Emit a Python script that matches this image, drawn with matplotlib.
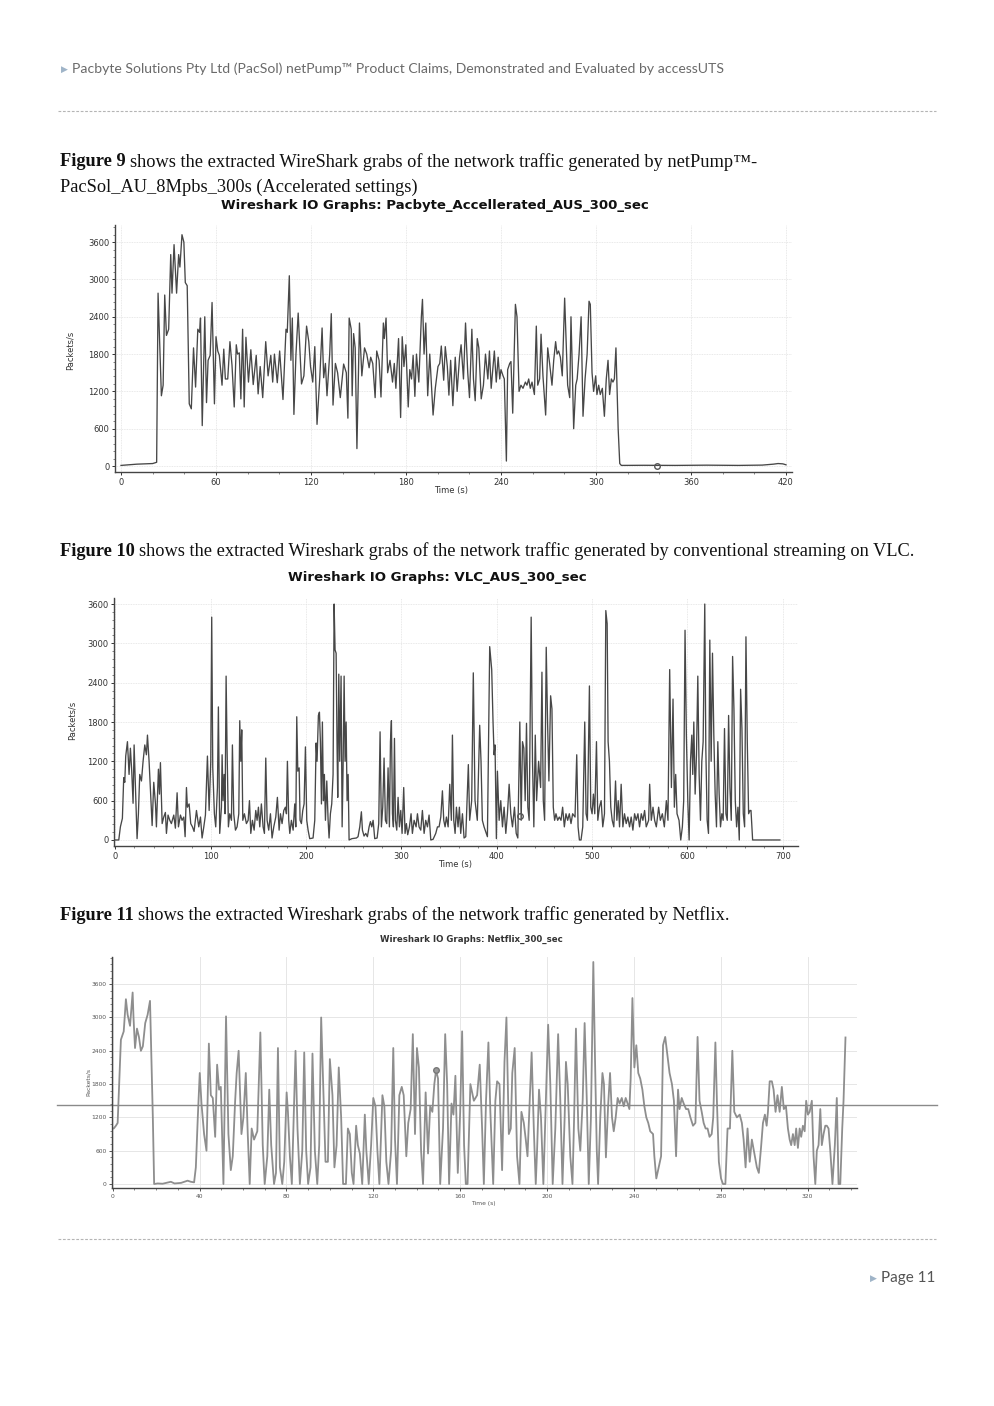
import numpy as np
import matplotlib
matplotlib.use("Agg")
import matplotlib.pyplot as plt
from matplotlib.lines import Line2D
from matplotlib.ticker import MultipleLocator

W, H = 994, 1406

# --- Figure 9: Pacbyte accelerated (time s, packets/s) ---
t1 = [0, 5, 10, 15, 20, 22.5, 23.4, 25.5, 26.6, 27.6, 28.7, 30.1, 31.4, 32.2, 33.5, 35.1, 36.4, 37.2,
      38.5, 39.7, 40.6, 41.8, 43.1, 44.4, 45.8, 47.1, 48.5, 49.6, 50.2, 51.3, 52.9, 54.0, 55.0, 56.3,
      57.5, 59.0, 60.0, 61.1, 62.1, 63.8, 64.9, 65.9, 67.4, 68.8, 70.1, 71.5, 72.8, 73.6, 74.7, 75.7,
      76.8, 77.8, 78.9, 80.5, 82.0, 83.5, 85.4, 86.6, 87.9, 89.5, 91.4, 92.9, 94.6, 95.8, 96.9, 98.7,
      100.2, 102.3, 104.2, 105.0, 106.3, 107.3, 108.2, 109.2, 110.5, 111.9, 114.0, 115.5, 117.2, 118.6,
      119.7, 121.1, 122.4, 123.8, 125.5, 127.0, 128.0, 129.1, 130.1, 131.8, 132.8, 133.9, 135.4, 136.8,
      138.5, 140.6, 142.3, 143.3, 144.1, 145.4, 146.0, 146.9, 147.9, 149.0, 150.6, 152.1, 153.8, 155.2,
      156.7, 157.7, 159.0, 160.5, 161.5, 163.0, 164.2, 165.7, 166.3, 167.4, 168.4, 169.9, 171.5, 172.6,
      173.6, 175.3, 176.6, 177.6, 178.7, 179.9, 181.4, 182.4, 183.5, 184.5, 185.6, 186.6, 188.1, 189.7,
      190.4, 191.4, 192.5, 193.7, 195.0, 197.1, 198.5, 200.2, 201.3, 202.3, 203.8, 204.8, 206.1, 207.1,
      208.2, 209.6, 211.1, 212.3, 213.8, 214.8, 216.3, 217.6, 219.0, 220.1, 221.6, 222.6, 223.7, 225.0,
      226.0, 227.5, 228.9, 230.2, 231.7, 232.7, 233.8, 234.8, 235.8, 237.0, 238.2, 239.2, 240.0, 241.3,
      242.1, 243.4, 244.2,
      245.5, 246.3, 247.4, 249.1, 250.1, 251.4, 252.6, 253.9, 255.4, 256.4, 257.5, 258.5, 259.6, 261.1,
      262.3, 263.2, 264.4, 265.3, 266.5, 268.2, 269.5, 270.7, 272.2, 273.3, 274.5, 275.4, 276.4, 277.5,
      278.7, 280.2, 281.3, 282.1, 283.4, 284.2, 284.8, 285.9, 287.2, 288.1, 289.3, 290.6, 291.8, 293.1,
      294.4, 295.6, 296.4, 297.5, 298.5, 299.8, 300.6, 301.7, 302.7, 304.0, 305.3, 306.5, 307.6, 308.6,
      309.7, 310.7, 311.6, 312.6, 314.0, 315.0, 316.0, 330, 350, 370, 390, 405, 412, 415, 418, 420]
pk1 = [10, 20, 30, 35, 40, 60, 2780, 1130, 1300, 2750, 2100, 2200, 3400, 2780, 3560, 2780, 3400, 3200,
       3720, 3600, 2950, 2900, 1000, 920, 1900, 1270, 2200, 2150, 2380, 650, 2400, 1020, 1700, 1780,
       2630, 1000, 2080, 1850, 1780, 1300, 1880, 1400, 1400, 2000, 1620, 950, 1950, 1800, 1820, 1080,
       2200, 950, 2070, 1350, 1870, 1310, 1780, 1160, 1600, 1100, 2000, 1450, 1780, 1350, 1800, 1340,
       1850, 1070, 2200, 2150, 3060, 1700, 2380, 830, 1800, 2460, 1320, 1450, 2250, 2000,
       1600, 1350, 1920, 670, 1400, 2220, 1420, 1650, 1130, 1800, 2450, 980, 1650, 1500,
       1100, 1640, 1500, 770, 2380, 2200, 1130, 2130, 1900, 280, 2300, 1450, 1900, 1800,
       1580, 1750, 1650, 1100, 1850, 1700, 1110, 2300, 2050, 2380, 1500, 1700, 1350, 1650,
       1250, 2050, 780, 2080, 1600, 1950, 950, 1550, 1400, 1780, 1120, 1800, 1350, 2400,
       2680, 1800, 2300, 1130, 1800, 820, 1250, 1600, 1650, 1930, 1380, 1920, 1600, 1140,
       1700, 970, 1750, 1200, 1740, 1950, 1400, 2300, 1500, 1100, 2200, 1400, 1050, 2050,
       1900, 1080, 1300, 1800, 1400, 1850, 1250, 1550, 1850, 1350, 1750, 1400, 1550, 1450,
       1400, 80, 1550,
       1650, 1680, 850, 2600, 2400, 1200, 1300, 1250, 1350, 1300, 1400, 1250, 1350, 1150,
       2250, 1300, 1400, 2120, 1450, 820, 1900, 1650, 1300, 1700, 2000, 1800, 1850, 1750,
       1450, 2700, 1900, 1300, 1100, 2400, 1800, 600, 1300, 1400, 1800, 2400, 800, 1400,
       1800, 2650, 2600, 1500, 1200, 1450, 1150, 1300, 1150, 1250, 800, 1400, 1700, 1150,
       1400, 1350, 1400, 1900, 600, 40, 10, 12, 10, 14, 10, 15, 30, 40, 35, 20]

# --- Figure 10: VLC ---
t2 = [0, 3.5, 5.2, 7.3, 8.7, 9.8, 10.8, 12.6, 14.3, 15.7, 17.1, 18.5, 19.6, 21.0, 22.7, 24.1, 25.5, 27.3,
      29.0, 30.8, 32.5, 33.6, 35.3, 37.1, 38.5, 40.2, 42.0, 43.0, 45.1, 46.2, 47.2, 49.0, 50.7, 52.4,
      53.5, 55.2, 57.0, 58.7, 61.2, 62.9, 64.7, 66.1, 68.2, 69.9, 71.7, 73.1, 74.5, 75.5, 77.3, 79.0,
      80.8, 82.5, 85.0, 87.4, 89.2, 90.9, 92.7, 94.4, 96.5, 98.3, 100.0, 101.0, 102.1, 103.8, 105.2,
      107.0, 108.0, 109.4, 111.2, 111.9, 112.9, 114.0, 115.0, 116.1, 117.1, 118.5, 119.9, 121.7, 122.7,
      124.1, 125.9, 127.6, 129.4, 130.4, 131.5, 132.5, 133.6, 135.3, 137.4, 139.2, 140.6, 142.0, 143.7,
      145.5, 147.2, 148.6, 150.0, 151.4, 153.1, 154.9, 156.3, 157.7, 159.1, 160.8, 162.6, 164.3, 166.1,
      168.2, 169.9, 171.7, 173.1, 174.8, 176.6, 178.3, 179.4, 180.4, 181.8, 182.9, 184.6, 186.4, 188.1,
      189.2, 190.2, 191.3, 192.7, 193.7, 195.1, 196.5, 197.9, 199.3, 200.7, 202.1, 203.8, 207.3, 209.1,
      210.5, 211.5, 212.9, 214.0, 215.0, 216.1, 217.1, 218.2, 219.2, 220.3, 221.7, 223.1, 224.1, 225.5,
      226.9, 228.3, 229.4, 230.4, 231.5, 232.5, 233.2, 234.3, 235.3, 236.7, 237.8, 238.8, 239.9, 240.9,
      242.0, 243.0, 244.1, 245.1, 248.0, 252.8, 254.5, 256.3, 258.0, 259.1, 260.8, 262.6, 264.3, 266.1,
      267.5, 268.9, 270.3, 272.0, 274.5, 276.2, 277.6, 279.0, 280.4, 281.8, 283.2, 284.6, 286.0, 287.4,
      288.5, 289.5, 290.6, 291.6, 292.7, 293.7, 295.1, 296.5, 297.9, 299.3, 300.7, 302.4, 303.8, 305.2,
      306.6, 308.4, 310.1, 311.5, 313.3, 315.4, 316.8, 318.5, 320.3, 322.0, 323.8, 325.5, 327.3, 329.0,
      330.8, 333.2, 336.0, 337.8, 339.5, 341.3, 343.0, 344.4, 345.8, 347.2, 349.0, 350.7, 352.4, 353.5,
      354.9, 356.3, 357.7, 359.4, 360.8, 362.2, 364.0, 365.7, 367.5, 370.2, 371.6, 373.7, 375.4, 377.2,
      379.6, 382.1, 383.5, 384.9, 386.7, 390.2, 392.6, 394.7, 396.1, 397.2, 398.2, 399.6, 400.7, 402.5,
      404.2, 406.0, 407.7, 409.5, 411.2, 413.0, 414.7, 416.5, 418.6, 420.4, 422.1, 424.2, 425.6, 427.0,
      428.4, 429.8, 431.2, 432.6, 434.0, 436.1, 437.5, 438.9, 440.4, 441.8, 443.9, 446.0, 447.4, 448.8,
      450.2, 451.9, 453.3, 454.7, 456.5, 457.9, 459.3, 460.7, 462.1, 463.9, 465.6, 467.4, 469.1, 470.9,
      472.6, 474.4, 476.1, 477.9, 479.6, 482.1, 483.9, 485.3, 486.7, 488.4, 490.2, 492.3, 493.7, 495.1,
      497.2, 498.6, 500.0, 501.4, 502.8, 504.6, 506.0, 507.7, 509.5, 511.2, 513.0, 514.4, 515.8, 516.8,
      518.2, 519.6, 521.1, 522.8, 524.6, 526.0, 527.4, 528.8, 530.5, 532.3, 534.0, 535.8, 537.5, 539.3,
      541.0, 542.8, 544.6, 546.3, 548.1, 549.8, 551.6, 553.3, 555.1, 556.8, 559.3, 560.4, 562.1, 563.9,
      565.6, 567.4, 569.8, 571.6, 573.7, 575.8, 577.9, 579.6, 581.4, 583.2, 584.9, 586.3, 587.7, 589.1,
      591.2, 593.0, 594.7, 596.1, 597.5, 598.9, 600.4, 601.8, 603.2, 604.6, 605.6, 606.7, 608.1, 609.5,
      610.9, 612.3, 613.7, 615.1, 616.5, 618.2, 619.3, 620.7, 622.1, 623.5, 624.9, 626.3, 627.7, 629.1,
      630.5, 631.9, 633.3, 634.7, 636.1, 637.5, 638.9, 640.4, 641.8, 643.2, 644.6, 646.0, 647.4, 648.8,
      650.2, 651.6, 653.0, 654.4, 655.8, 657.2, 658.6, 660.0, 661.4, 662.8, 664.2, 665.6, 666.7, 668.4,
      680, 697]
pk2 = [0, 0, 200, 330, 950, 880, 1280, 1500, 1000, 1400, 1050, 560, 1450, 800, 20, 400, 1000, 900,
       1200, 1450, 1300, 1600, 1200, 650, 220, 880, 550, 200, 1080, 700, 1180, 250, 350, 420,
       100, 380, 300, 250, 380, 180, 720, 200, 380, 300, 350, 50, 800, 500, 550, 250,
       200, 130, 450, 200, 350, 30, 200, 380, 1280, 450, 1200, 3400, 1100, 400, 200,
       800, 2030, 100, 500, 1300, 600, 1000, 400, 2500, 1400, 200, 400, 300, 1450,
       400, 150, 200, 400, 1820, 1200, 1680, 300, 400, 250, 300, 600, 100, 300,
       150, 450, 300, 500, 200, 550, 200, 100, 1250, 300, 150, 400, 30, 200,
       350, 650, 150, 400, 250, 450, 500, 400, 1200, 300, 100, 300, 150, 550,
       200, 1880, 1050, 1100, 300, 250, 450, 550, 1420, 300, 150, 20, 30, 300,
       1480, 1200, 1900, 1950, 1500, 550, 1800, 600, 1000, 300, 900, 300, 30, 400,
       550, 1000, 3600, 2900, 2850, 1400, 650, 2530, 1200, 2500, 200, 1100, 2500, 1200,
       1800, 600, 1000, 0, 20, 30, 50, 200, 430, 150, 60, 100, 50, 200,
       280, 200, 300, 20, 30, 250, 1650, 200, 500, 1250, 300, 250, 1100, 200,
       1500, 1820, 400, 200, 1550, 300, 150, 650, 200, 450, 100, 800, 100, 250,
       80, 200, 400, 100, 300, 200, 400, 200, 150, 450, 100, 300, 200, 380,
       0, 10, 100, 200, 200, 350, 750, 300, 200, 350, 200, 850, 300, 1600,
       300, 100, 500, 200, 500, 100, 400, 30, 50, 1150, 300, 600, 2550, 600,
       300, 1750, 1200, 300, 200, 50, 2950, 2600, 1800, 1300, 1450, 20, 1050, 300,
       600, 200, 500, 100, 400, 850, 400, 200, 500, 100, 30, 1800, 300, 1500,
       1400, 600, 1780, 500, 300, 3400, 1200, 200, 1600, 600, 1200, 800, 2560, 600,
       300, 2940, 1800, 900, 2200, 2000, 500, 300, 400, 300, 350, 300, 500, 200,
       400, 300, 400, 250, 400, 350, 1300, 200, 0, 0, 200, 1800, 400, 300,
       2350, 500, 400, 700, 400, 1500, 300, 500, 600, 200, 400, 3500, 3300, 1500,
       1200, 500, 300, 200, 900, 300, 600, 200, 850, 200, 400, 250, 350, 200,
       350, 150, 400, 300, 400, 200, 400, 300, 450, 200, 300, 850, 300, 500,
       300, 200, 500, 300, 400, 200, 600, 300, 2600, 800, 2150, 500, 1000, 400,
       300, 0, 200, 600, 3200, 1600, 600, 0, 1200, 1600, 1000, 1800, 700, 1300,
       2500, 1000, 300, 1200, 1500, 3600, 1400, 300, 100, 3050, 1200, 2850, 1600, 700,
       200, 1500, 700, 200, 400, 300, 1700, 400, 300, 1900, 800, 300, 2800, 2000,
       600, 200, 500, 0, 2300, 1700, 400, 200, 3100, 1500, 400, 450, 450, 0,
       0, 0]

# --- Figure 11: Netflix ---
t3 = [0, 0.5, 1.5, 2.3, 3.1, 3.8, 5.1, 6.1, 6.9, 8.0, 9.2, 9.6, 10.3, 11.2, 12.1, 13.0, 13.9, 15.0, 16.1,
      17.2, 17.9, 18.5, 19.1, 20.7, 23.0, 26.8, 28.5, 31.5, 34.5, 36.0, 37.5, 38.3, 39.2, 40.1, 40.9,
      42.1, 43.2, 44.3, 45.2, 46.1, 47.2, 48.1, 49.0, 49.8, 51.0, 52.2, 53.3, 54.4, 55.3, 56.4, 57.1,
      58.0, 59.3, 60.2, 61.3, 62.2, 63.1, 64.0, 65.1, 66.6, 68.0, 69.1, 70.0, 71.2, 72.1, 73.0, 74.3,
      75.2, 76.1, 77.0, 78.1, 79.0, 80.1, 80.7, 81.6, 82.5, 84.2, 85.1, 86.2, 87.3, 88.2, 89.1, 90.0,
      91.1, 92.0, 93.1, 94.2, 95.1, 96.0, 96.9, 98.0, 99.1, 100.0, 101.2, 102.1, 103.1, 104.1, 105.2,
      106.1, 107.4, 108.3, 109.2, 110.1, 110.9, 112.1, 112.9, 113.8, 114.9, 116.1, 116.8, 117.9, 119.0,
      120.0, 121.0, 121.9, 122.8, 124.2, 125.1, 126.0, 127.0, 128.2, 129.2, 130.0, 130.9, 132.0, 133.1,
      134.0, 135.2, 136.1, 137.2, 138.2, 139.2, 140.1, 141.0, 142.0, 142.9, 144.1, 145.2, 146.2, 147.2,
      148.1, 148.9, 149.8, 150.8, 152.1, 153.1, 154.0, 154.9, 156.0, 156.9, 157.8, 158.9, 160.0, 160.9,
      161.8, 162.6, 163.4, 164.7, 166.3, 167.8, 169.0, 170.1, 170.9, 171.9, 173.0, 173.9, 175.2, 176.2,
      177.0, 178.1, 179.3, 180.4, 181.3, 182.4, 183.3, 184.0, 185.1, 186.2, 187.3, 188.2, 189.3, 190.2,
      191.0, 192.0, 192.9, 193.9, 194.8, 195.4, 196.3, 197.2, 198.3, 199.2, 200.5, 201.5, 202.6, 203.8,
      205.1, 206.1, 207.1, 208.1, 208.7, 209.5, 210.7, 211.7, 212.4, 213.3, 214.4, 215.3, 216.4, 217.3,
      218.3, 219.2, 220.2, 221.3, 222.1, 222.9, 223.5, 224.5, 225.5, 226.2, 227.1, 228.1, 229.0, 229.9,
      230.7, 231.6, 232.5, 233.4, 234.4, 235.3, 236.2, 237.1, 237.9, 238.5, 239.3, 240.2, 241.1, 242.0,
      242.9, 243.9, 244.8, 245.7, 246.6, 247.5, 248.8, 249.4, 250.3, 251.4, 252.5, 253.4, 254.4, 255.5,
      256.4, 257.5, 258.4, 259.4, 260.3, 261.0, 262.0, 262.9, 264.0, 265.0, 266.0, 267.2, 268.3, 269.3,
      270.2, 271.2, 272.1, 273.0, 273.9, 274.8, 275.8, 276.5, 277.5, 278.2, 279.1, 280.1, 281.0, 282.1,
      283.1, 284.2, 285.3, 286.2, 287.4, 288.7, 289.7, 290.5, 291.4, 292.3, 293.3, 294.3, 295.2, 296.6,
      297.5, 298.5, 299.4, 300.3, 301.1, 301.7, 302.5, 303.5, 304.3, 305.2, 306.1, 307.1, 308.1, 309.0,
      310.0, 310.9, 311.7, 312.4, 313.2, 314.0, 314.7, 315.5, 316.3, 317.0, 317.8, 318.6, 319.3, 320.1,
      320.9, 321.9, 322.7, 323.5, 324.2, 325.0, 325.8, 326.5, 327.3, 328.1, 328.8, 329.6, 330.4, 331.4,
      332.5, 333.4, 334.2, 335.0, 335.9, 336.5, 337.4]
pk3 = [1000, 1000, 1050, 1100, 1900, 2600, 2750, 3330, 3050, 2850, 3450, 3000, 2450, 2800, 2650, 2400, 2480, 2900, 3050,
       3300, 2200, 1200, 0, 10, 5, 40, 10, 20, 60, 40, 30, 300, 1200, 2000, 1450,
       900, 600, 2530, 1600, 1550, 850, 2150, 1700, 1750, 0, 3020, 900, 250, 500, 1500, 2000,
       2400, 900, 1200, 2000, 900, 0, 1000, 800, 950, 2730, 700, 0, 500, 1700, 700, 0,
       200, 2450, 300, 0, 400, 1650, 1300, 500, 0, 2400, 1000, 0, 600, 2370, 600, 0,
       300, 2350, 600, 0, 700, 3000, 1800, 400, 400, 2250, 1600, 300, 700, 2100, 1200,
       0, 0, 1000, 900, 200, 0, 1050, 700, 550, 0, 1250, 600, 0, 700,
       1550, 1400, 600, 0, 1600, 1400, 400, 0, 600, 2450, 800, 0, 1600, 1750,
       1600, 500, 1100, 1350, 2700, 900, 2450, 2100, 600, 0, 1650, 550, 1400, 1300,
       1800, 2050, 1900, 0, 1000, 2700, 1800, 0, 1450, 1250, 1950, 200, 1300, 2750,
       700, 0, 0, 1800, 1500, 1600, 2150, 1000, 0, 1500, 2550, 1300, 0, 1500,
       1850, 1800, 250, 2200, 3000, 900, 1000, 2000, 2450, 500, 0, 1300, 1100, 800,
       500, 1500, 2370, 1000, 0, 600, 1700, 1200, 0, 1200, 2870, 1800, 0, 1000,
       2700, 1500, 0, 1200, 2200, 1800, 500, 0, 1100, 2800, 1000, 600, 1500, 2900,
       1500, 0, 1200, 4000, 2200, 600, 0, 1200, 2000, 1800, 480, 1400, 2000, 1200,
       950, 1200, 1550, 1450, 1550, 1400, 1550, 1450, 1350, 1900, 3350, 2100, 2500, 2000,
       1900, 1700, 1400, 1200, 1100, 950, 900, 500, 100, 300, 500, 2500, 2650, 2300,
       2000, 1800, 1500, 500, 1700, 1350, 1550, 1450, 1350, 1350, 1200, 1050, 1100, 2650,
       1500, 1300, 1100, 1000, 1000, 850, 900, 1200, 2550, 1500, 400, 100, 0, 0,
       1000, 1000, 2400, 1300, 1200, 1250, 1100, 800, 300, 1000, 400, 800, 600, 300,
       200, 650, 1100, 1250, 1050, 1300, 1850, 1850, 1700, 1300, 1600, 1300, 1750, 1350,
       1400, 1000, 800, 700, 900, 700, 1000, 650, 1000, 850, 1050, 950, 1500, 1250,
       1300, 1500, 500, 0, 600, 700, 1350, 700, 900, 1050, 1050, 1000, 600, 0,
       700, 1550, 0, 0, 1000, 1500, 2640]

yticks = [0, 600, 1200, 1800, 2400, 3000, 3600]
SERIF = 'Liberation Serif'
BODY_FS = 13.2


def px_axes(l, t, r, b):
    return fig.add_axes([l / W, 1 - b / H, (r - l) / W, (b - t) / H])


def style(ax, fs, xmaj, xmin_, c='#333333'):
    for s in ['top', 'right']:
        ax.spines[s].set_visible(False)
    for s in ['left', 'bottom']:
        ax.spines[s].set_color('#444444')
        ax.spines[s].set_linewidth(1.0)
    ax.set_yticks(yticks)
    ax.xaxis.set_major_locator(MultipleLocator(xmaj))
    ax.xaxis.set_minor_locator(MultipleLocator(xmin_))
    ax.yaxis.set_minor_locator(MultipleLocator(120))
    ax.tick_params(labelsize=fs, colors=c, length=2.5, width=0.7, pad=1.5)
    ax.tick_params(which='minor', length=1.5, width=0.5, colors='#555555')
    ax.grid(True, color='#e2e2e2', lw=0.6, ls=(0, (1, 1)))
    ax.set_axisbelow(True)


fig = plt.figure(figsize=(W / 100, H / 100), dpi=100)
renderer = fig.canvas.get_renderer()

# header / footer
fig.text(64 / W, 1 - 69 / H, '\u25B6', fontsize=6.5, color='#9fb4c8', va='center', ha='center')
fig.text(72 / W, 1 - 69 / H,
         'Pacbyte Solutions Pty Ltd (PacSol) netPump\u2122 Product Claims, Demonstrated and Evaluated by accessUTS',
         fontsize=10.05, family='Lato', color='#6a6a6a', va='center')
for yy in [111, 1239]:
    fig.add_artist(Line2D([58 / W, 936 / W], [1 - yy / H] * 2, color='#b5b5b5', lw=0.8, ls=(0, (2.5, 1.5))))
fig.text(873 / W, 1 - 1278 / H, '\u25B6', fontsize=6.5, color='#9fb4c8', va='center', ha='center')
fig.text(881 / W, 1 - 1278 / H, 'Page 11', fontsize=11, family='Lato', color='#555555', va='center')


def para(x, y, bold, rest):
    tb = fig.text(x / W, 1 - y / H, bold, fontsize=BODY_FS, family=SERIF,
                  fontweight='bold', va='center', color='#111111')
    bb = tb.get_window_extent(renderer)
    fig.text((bb.x1 + 4) / W, 1 - y / H, rest, fontsize=BODY_FS, family=SERIF,
             va='center', color='#111111')


para(60, 162, 'Figure 9', 'shows the extracted WireShark grabs of the network traffic generated by netPump\u2122-')
fig.text(60 / W, 1 - 187 / H, 'PacSol_AU_8Mpbs_300s (Accelerated settings)', fontsize=BODY_FS,
         family=SERIF, va='center', color='#111111')
para(60, 551, 'Figure 10',
     'shows the extracted Wireshark grabs of the network traffic generated by conventional streaming on VLC.')
para(60, 915, 'Figure 11', 'shows the extracted Wireshark grabs of the network traffic generated by Netflix.')

# chart 1
ax1 = px_axes(115, 225, 792, 472)
ax1.plot(t1, pk1, color='#474747', lw=0.95)
ax1.plot([338.5], [0], 'o', mfc='none', mec='#555555', ms=4, mew=1)
ax1.set_xlim(-3.8, 423.8)
ax1.set_ylim(-96, 3876)
style(ax1, 6, 60, 20)
fig.text(435 / W, 1 - 205 / H, 'Wireshark IO Graphs: Pacbyte_Accellerated_AUS_300_sec',
         fontsize=9.5, fontweight='bold', ha='center', va='center', color='#111111')
fig.text(451 / W, 1 - 490 / H, 'Time (s)', fontsize=6, ha='center', va='center', color='#333333')
fig.text(70 / W, 1 - 350 / H, 'Packets/s', fontsize=6, rotation=90, ha='center', va='center', color='#333333')

# chart 2
ax2 = px_axes(114, 598, 798, 846)
ax2.plot(t2, pk2, color='#474747', lw=0.95)
ax2.plot([424.6], [360], 'o', mfc='none', mec='#555555', ms=4, mew=1)
ax2.set_xlim(-1.5, 716)
ax2.set_ylim(-92, 3692)
style(ax2, 6, 100, 20)
fig.text(437 / W, 1 - 577 / H, 'Wireshark IO Graphs: VLC_AUS_300_sec',
         fontsize=9.6, fontweight='bold', ha='center', va='center', color='#111111')
fig.text(455 / W, 1 - 864 / H, 'Time (s)', fontsize=6, ha='center', va='center', color='#333333')
fig.text(72 / W, 1 - 720 / H, 'Packets/s', fontsize=6, rotation=90, ha='center', va='center', color='#333333')

# chart 3
ax3 = px_axes(112, 957, 857, 1188)
ax3.plot(t3, pk3, color='#8e8e8e', lw=1.3)
ax3.plot([148.9], [2050], 'o', mfc='#9a9a9a', mec='#777777', ms=4)
ax3.set_xlim(-0.3, 342.7)
ax3.set_ylim(-72, 4090)
style(ax3, 4.3, 40, 10, c='#555555')
ax3.grid(True, color='#e6e6e6', lw=0.7, ls='-')
ax3.axhline(1423, xmin=(57 - 112) / 745, xmax=(937 - 112) / 745, color='#8a8a8a', lw=1.0, clip_on=False)
fig.text(471 / W, 1 - 939 / H, 'Wireshark IO Graphs: Netflix_300_sec',
         fontsize=6.2, fontweight='bold', ha='center', va='center', color='#333333')
fig.text(483 / W, 1 - 1204 / H, 'Time (s)', fontsize=4.3, ha='center', va='center', color='#555555')
fig.text(88 / W, 1 - 1082 / H, 'Packets/s', fontsize=4.3, rotation=90, ha='center', va='center', color='#555555')

fig.savefig('out.png', dpi=100)
